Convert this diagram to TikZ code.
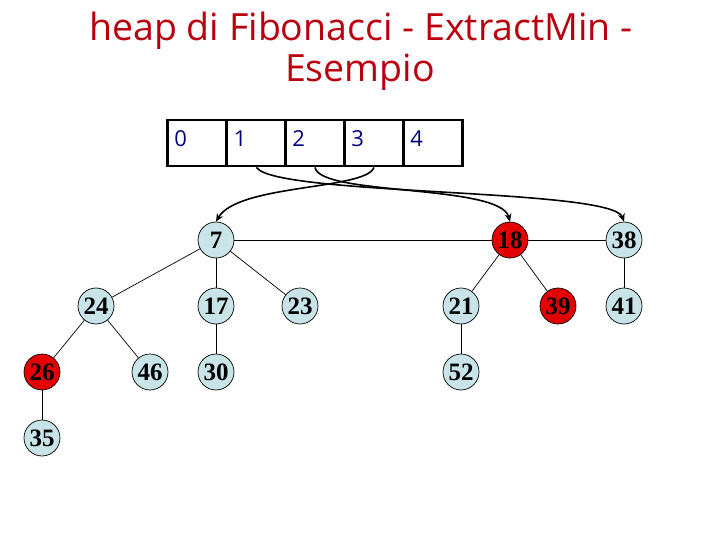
\documentclass[tikz,border=0pt]{standalone}
\usepackage{fontspec}
\setmainfont{Liberation Serif}
\newfontfamily\titlefont{Open Sans}
\usetikzlibrary{arrows.meta}
\definecolor{titlered}{RGB}{185,0,15}
\definecolor{nodeblue}{RGB}{200,228,232}
\definecolor{nodered}{RGB}{228,0,0}
\definecolor{digitnavy}{RGB}{0,0,128}
\tikzset{
  hn/.style={circle,draw=black,line width=0.7pt,fill=nodeblue,minimum size=36pt,inner sep=0pt,
    font=\fontsize{25}{25}\selectfont\bfseries},
  rn/.style={hn,fill=nodered},
  cell/.style={rectangle,draw=black,line width=2.8pt,minimum width=59pt,minimum height=46pt,inner sep=0pt},
  digit/.style={anchor=north west,inner sep=0pt,text=digitnavy,font=\titlefont\fontsize{22}{22}\selectfont},
  title/.style={anchor=base,inner sep=0pt,text=titlered,font=\titlefont\fontsize{37.5}{37.5}\selectfont},
  edge/.style={line width=0.7pt},
  conn/.style={line width=1.6pt,-{Stealth[length=8pt,width=7pt]}}
}
\begin{document}
\begin{tikzpicture}[x=1pt,y=-1pt]
\useasboundingbox (0,0) rectangle (720,540);
% title
\node[title] (t1) at (361,41) {heap di Fibonacci - ExtractMin -};
\node[title] (t2) at (360,82) {Esempio};
% array
\node[cell] (c0) at (197,143) {};
\node[cell] (c1) at (256.5,143) {};
\node[cell] (c2) at (315,143) {};
\node[cell] (c3) at (374,143) {};
\node[cell] (c4) at (433,143) {};
\foreach \i in {0,...,4}{
  \node[digit] (d\i) at ([xshift=8pt,yshift=-12pt]c\i.north west) {\i};
}
% nodes
\node[hn] (n7)  at (216,240) {7};
\node[rn] (n18) at (510,240) {18};
\node[hn] (n38) at (624,240) {38};
\node[hn] (n24) at (96,306) {24};
\node[hn] (n17) at (216,306) {17};
\node[hn] (n23) at (300,306) {23};
\node[hn] (n21) at (461,306) {21};
\node[rn] (n39) at (558,306) {39};
\node[hn] (n41) at (624,306) {41};
\node[rn] (n26) at (42,372) {26};
\node[hn] (n46) at (150,372) {46};
\node[hn] (n30) at (216,372) {30};
\node[hn] (n52) at (461,372) {52};
\node[hn] (n35) at (42,438) {35};
% edges
\draw[edge] (n7) -- (n18);
\draw[edge] (n18) -- (n38);
\draw[edge] (n7) -- (n24);
\draw[edge] (n7) -- (n17);
\draw[edge] (n7) -- (n23);
\draw[edge] (n24) -- (n26);
\draw[edge] (n24) -- (n46);
\draw[edge] (n17) -- (n30);
\draw[edge] (n26) -- (n35);
\draw[edge] (n18) -- (n21);
\draw[edge] (n18) -- (n39);
\draw[edge] (n21) -- (n52);
\draw[edge] (n38) -- (n41);
% pointers
\draw[conn] (c3.south) .. controls (366,190) and (238,184) .. (n7.north);
\draw[conn] (c2.south) .. controls (320,196) and (500,184) .. (n18.north);
\draw[conn] (c1.south) .. controls (275,196) and (612,188) .. (n38.north);
\end{tikzpicture}
\end{document}
